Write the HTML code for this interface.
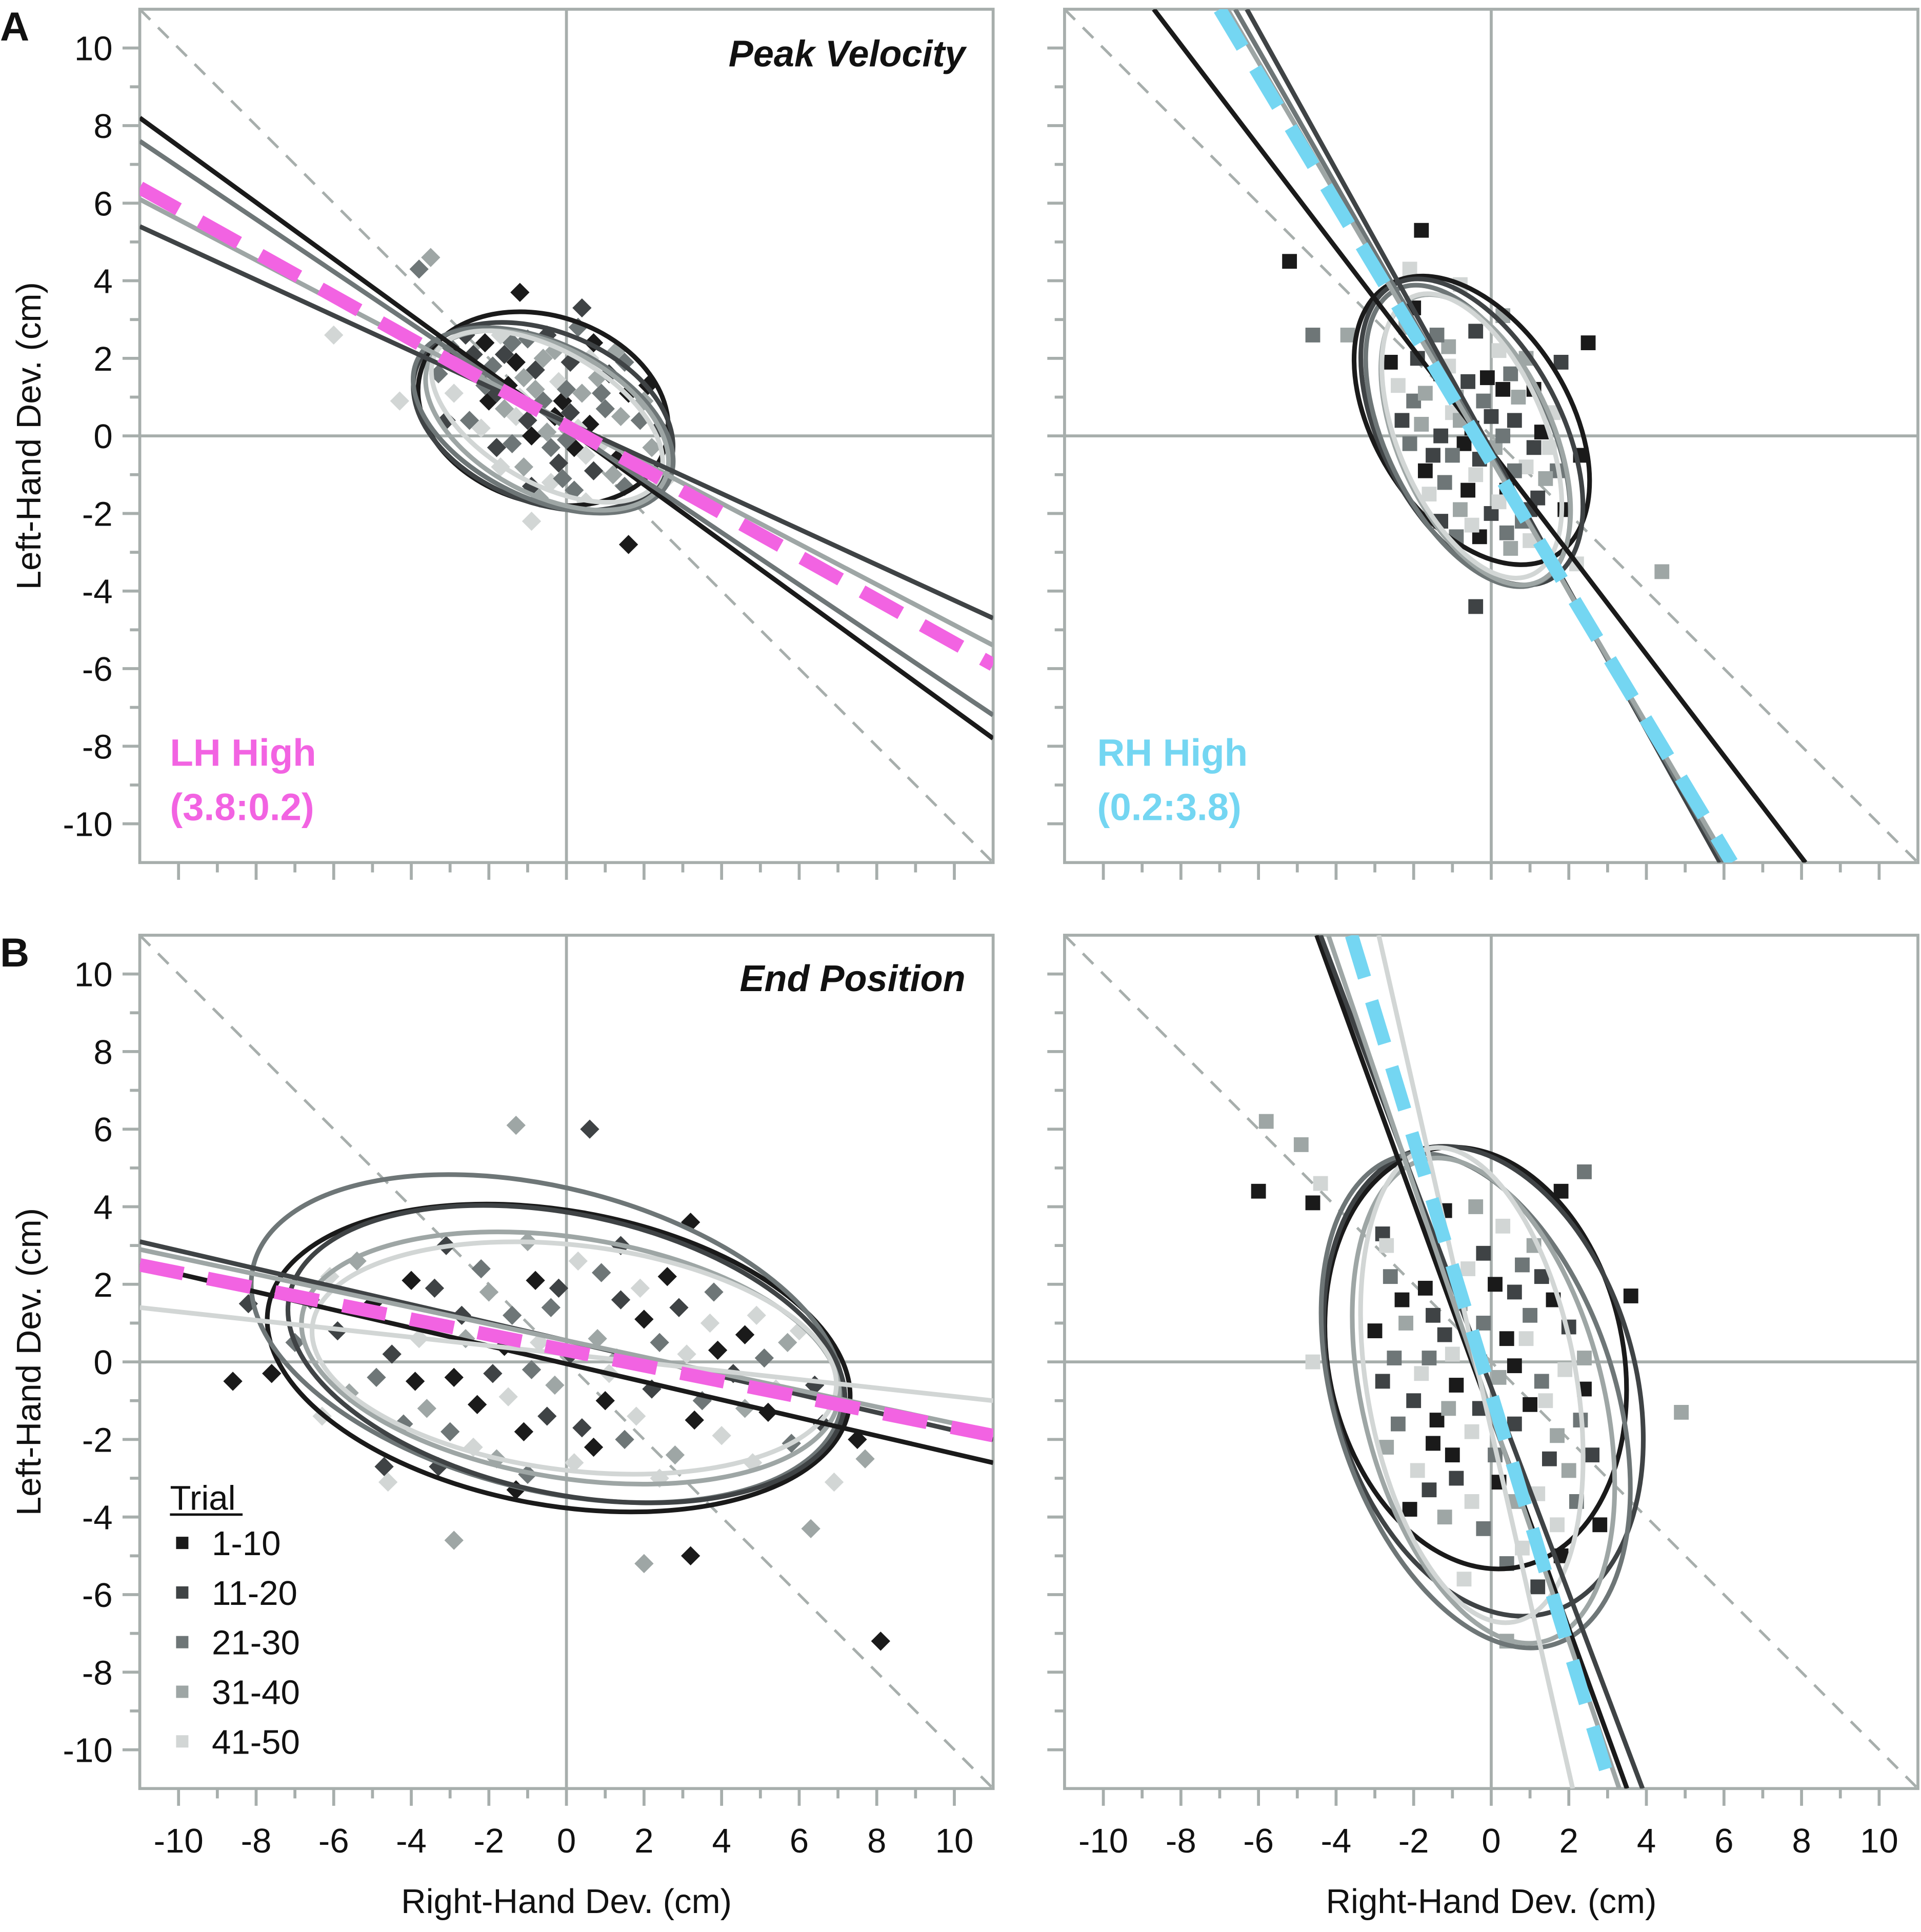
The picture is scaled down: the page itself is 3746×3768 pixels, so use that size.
<!DOCTYPE html>
<html><head><meta charset="utf-8"><style>
html,body{margin:0;padding:0;background:#fff}
svg{display:block}
text{font-family:"Liberation Sans",Arial,sans-serif}
</style></head><body>
<svg id="fig" xmlns="http://www.w3.org/2000/svg" width="3746" height="3768" viewBox="0 0 1560 1569" preserveAspectRatio="none">
<rect x="0" y="0" width="1560" height="1569" fill="#fff"/>
<text x="0" y="33" font-size="33" font-weight="bold" fill="#111">A</text>
<text x="0" y="785" font-size="33" font-weight="bold" fill="#111">B</text>
<g id="layer"></g>
</svg>
<script>
// ---------- data ----------
const ticks = [-10,-8,-6,-4,-2,0,2,4,6,8,10];
const shades = ['#1a1a1a','#3f4345','#6e7677','#9ea6a5','#d2d6d5'];
const legendLabels = ['1-10','11-20','21-30','31-40','41-50'];
// lines: [x1,y1,x2,y2,shadeIndex] (shade -1 = highlight dashed)
const linesAL = [[-11,8.2,11,-7.8,0],[-11,7.6,11,-7.2,2],[-11,6.1,11,-5.4,3],[-11,5.4,11,-4.7,1],[-11,6.4,11,-5.9,-1]];
const linesAR = [[-8.7,11,8.1,-11,0],[-6.3,11,5.9,-11,1],[-6.6,11,6.0,-11,2],[-6.8,11,6.1,-11,3],[-7.0,11,6.2,-11,-1]];
const linesBL = [[-11,2.5,11,-2.6,0],[-11,3.1,11,-2.0,1],[-11,2.9,11,-1.8,3],[-11,1.4,11,-1.0,4],[-11,2.5,11,-1.9,-1]];
const linesBR = [[-4.5,11,3.5,-11,0],[-4.4,11,3.9,-11,1],[-4.2,11,3.3,-11,3],[-2.9,11,2.1,-11,4],[-3.6,11,3.1,-11,-1]];
// ellipses: [cx,cy,rx,ry,angleDeg,shade]
const ellAL = [[-0.6,0.7,3.3,2.4,-18,0],[-0.6,0.5,3.5,2.2,-22,1],[-0.6,0.4,3.6,2.0,-26,2],[-0.5,0.4,3.4,1.9,-28,3],[-0.5,0.5,3.3,1.7,-30,4]];
const ellAR = [[-0.5,0.4,4.1,2.5,-58,0],[-0.5,0.1,4.3,2.3,-62,1],[-0.6,0.0,4.2,2.1,-64,2],[-0.4,-0.1,4.0,2.0,-66,3],[-0.5,0.0,3.9,1.9,-67,4]];
const ellBL = [[-0.2,0.1,7.6,3.8,-10,0],[-0.5,0.6,7.8,3.9,-14,2],[0.0,0.2,7.3,3.6,-12,1],[0.1,0.1,7.0,3.1,-9,3],[0.2,0.1,6.8,2.9,-7,4]];
const ellBR = [[-0.4,0.1,5.5,3.8,-78,0],[-0.2,-0.5,6.2,3.9,-74,1],[-0.4,-1.0,6.6,3.6,-72,2],[-0.2,-1.0,6.4,3.1,-76,3],[-0.5,-0.6,6.2,2.7,-80,4]];
// points: [x,y,shade]
const ptsAL = [[-3.5,4.6,3],[-3.8,4.3,2],[-1.2,3.7,0],[0.4,3.3,1],[-6,2.6,4],[-4.3,0.9,4],[2.6,-1.1,4],[1.6,-2.8,0],[2.1,1.3,0],[-0.9,-2.2,4],
[-2.1,2.4,0],[-1.6,2.1,1],[-1.0,2.5,2],[-0.3,2.2,3],[0.6,2.0,4],[1.1,1.6,1],[1.6,1.1,0],[1.9,0.4,2],[2.2,-0.3,3],[1.3,-0.6,0],
[0.7,-0.9,1],[0.2,-1.4,2],[-0.4,-1.2,4],[-1.1,-0.8,3],[-1.8,-0.3,1],[-2.5,0.4,2],[-2.9,1.1,4],[-2.3,1.6,3],[-1.5,1.3,0],[-0.8,1.7,1],
[-0.2,1.4,4],[0.4,1.1,3],[1.0,0.7,2],[0.6,0.3,0],[0.1,0.6,1],[-0.6,0.9,2],[-1.3,0.5,4],[-2.0,0.9,0],[-1.7,2.6,4],[-0.5,0.1,3],
[0.2,-0.3,0],[0.9,-0.2,4],[1.5,-1.3,2],[-0.2,-0.7,1],[-0.9,0.0,0],[-1.4,-0.2,2],[-2.7,1.9,3],[-3.1,0.4,1],[0.3,2.8,2],[-1.2,1.0,4],
[0.8,1.5,3],[-0.1,0.9,0],[-2.2,0.2,4],[1.8,-0.8,1],[-0.7,-1.6,3],[0.5,-1.7,4],[-3.0,2.3,2],[1.3,2.2,3],[-1.8,1.1,1],[0.0,-0.1,2],
[-2.4,2.1,1],[-1.9,1.8,2],[-1.3,1.9,0],[-0.6,2.0,3],[0.1,1.9,1],[0.9,1.1,2],[1.4,0.5,3],[0.5,-0.5,4],[-0.4,-0.3,2],[-1.0,0.4,1],
[-1.6,0.7,3],[-2.1,1.3,2],[-0.3,0.5,0],[0.3,0.2,4],[-0.8,1.2,3],[-1.4,2.4,2],[-2.6,2.6,1],[1.2,-1.0,3],[-0.1,-1.1,2],[-1.7,-0.8,4],
[2.0,0.9,3],[1.5,1.9,2],[-2.9,2.0,0],[-3.3,1.6,2],[-0.5,2.6,1],[0.7,2.4,0],[2.4,0.2,1],[-0.9,-1.3,1],[0.0,1.2,2],[-1.1,1.5,3]];
const ptsAR = [[-5.2,4.5,0],[-1.8,5.3,0],[-3.7,2.6,3],[-4.6,2.6,2],[-2.2,2.8,3],[2.5,2.4,0],[-2.0,3.3,0],[-0.8,3.9,4],[-2.1,4.3,4],[0.3,3.1,3],
[4.4,-3.5,3],[-0.4,-4.4,1],[2.2,-3.3,4],[2.3,-0.5,0],[1.8,1.9,1],[-2.4,1.3,4],[-1.3,1.6,0],[-0.6,1.4,1],[0.5,1.6,2],[1.1,1.2,0],
[-1.8,0.3,3],[-1.0,0.6,4],[-0.2,0.9,2],[0.6,0.4,1],[1.3,0.1,0],[-1.5,-0.5,1],[-0.7,-0.2,0],[0.1,-0.3,3],[0.9,-0.8,4],[1.7,-0.9,2],
[-1.2,-1.2,2],[-0.4,-1.0,4],[0.4,-1.4,0],[1.2,-1.6,1],[-0.8,-1.9,3],[0.0,-2.0,1],[0.8,-2.2,2],[-1.6,-1.5,4],[-0.3,-2.6,0],[0.5,-2.9,3],
[-2.0,0.9,2],[-1.1,2.3,3],[0.2,2.2,4],[1.5,-0.3,4],[-0.5,0.2,0],[0.3,0.0,2],[-1.3,0.0,1],[1.0,-2.7,4],[-0.9,-2.6,2],[1.9,-1.9,0],
[-1.9,2.0,1],[-1.4,2.6,2],[-0.9,1.0,3],[-0.1,1.5,0],[0.7,1.0,3],[-2.3,0.4,1],[-1.7,-0.9,0],[-1.0,-0.5,2],[-0.3,-0.6,1],[0.6,-0.9,2],
[1.4,-1.1,3],[-0.6,-1.4,0],[0.2,-1.7,4],[1.0,-1.9,1],[-1.3,-2.2,1],[-0.5,-2.3,4],[0.4,-2.5,2],[-2.6,1.9,0],[-0.4,2.7,1],[0.9,2.0,3],
[1.6,0.6,4],[-1.7,1.1,3],[0.0,0.5,1],[-0.8,0.4,3],[1.1,-0.3,1],[-2.1,-0.2,2],[0.3,1.2,0],[-1.1,1.8,4]];
const ptsBL = [[-1.3,6.1,3],[0.6,6.0,1],[3.2,3.6,0],[-8.6,-0.5,0],[-8.2,1.5,1],[-4.7,-2.7,1],[-4.6,-3.1,4],[-2.9,-4.6,3],[-1.3,-3.3,0],[2.0,-5.2,3],
[3.2,-5.0,0],[6.3,-4.3,3],[8.1,-7.2,0],[7.7,-2.5,3],[6.9,-3.1,4],[7.5,-2.0,0],[-7.6,-0.3,0],[-6.1,2.2,4],[-4.0,2.1,0],[-3.1,3.0,1],
[-2.2,2.4,2],[-1.0,3.1,3],[0.3,2.6,4],[1.4,3.0,1],[2.6,2.2,0],[3.8,1.8,2],[4.9,1.2,4],[5.7,0.5,3],[6.4,-0.6,1],[5.2,-1.3,0],
[4.0,-1.9,4],[2.8,-2.4,3],[1.5,-2.0,2],[0.2,-2.6,4],[-1.1,-1.8,0],[-2.4,-2.2,4],[-3.6,-1.2,3],[-4.9,-0.4,2],[-5.9,0.8,1],[-5.0,1.5,0],
[-3.8,0.6,4],[-2.7,1.2,1],[-1.6,0.4,0],[-0.4,1.4,2],[0.8,0.6,3],[2.0,1.1,0],[3.1,0.2,4],[4.3,-0.3,1],[3.5,-1.0,2],[2.2,-0.7,1],
[1.0,-1.0,0],[-0.3,-0.6,3],[-1.5,-0.9,4],[-2.9,-0.4,0],[-4.2,-1.6,2],[-6.3,-1.4,4],[-5.4,2.6,3],[-0.8,2.1,0],[1.9,1.9,4],[4.6,0.7,0],
[5.8,-2.1,2],[0.4,-1.7,1],[-2.0,1.8,3],[-3.3,-2.7,1],[2.4,-3.0,4],[-7.0,0.5,2],[-0.7,0.5,4],[1.3,0.1,3],[3.7,1.0,4],[6.0,0.8,4],
[-3.4,1.9,1],[-2.6,0.6,3],[-1.9,-0.3,1],[-0.9,-0.2,2],[0.1,0.2,1],[1.1,-0.3,4],[2.4,0.5,2],[3.3,-1.5,0],[4.6,-1.2,3],[5.1,0.1,2],
[-4.5,0.2,1],[-3.0,-1.8,2],[-1.8,-2.5,3],[-0.5,-1.4,1],[0.7,-2.2,0],[1.8,-1.4,4],[2.9,1.4,1],[-0.2,1.9,1],[-1.4,1.2,2],[-2.3,-1.1,0],
[3.9,0.3,0],[5.4,-0.7,4],[-5.6,-0.8,3],[-6.6,1.6,2],[0.9,2.3,2],[-3.9,-0.5,0],[6.6,-1.6,1],[4.8,-2.6,4],[-1.0,-2.9,2],[1.4,1.6,1]];
const ptsBR = [[-6.0,4.4,0],[-5.8,6.2,3],[-4.9,5.6,3],[-4.6,4.1,0],[-4.4,4.6,4],[4.9,-1.3,3],[3.6,1.7,0],[2.4,4.9,2],[1.8,4.4,0],[0.4,-7.2,3],
[-4.6,0.0,4],[-2.8,3.3,1],[-1.2,3.9,0],[0.3,3.5,4],[1.1,3.0,3],[-2.6,2.2,2],[-1.7,1.9,0],[-0.6,2.4,4],[0.6,1.8,1],[1.6,1.6,0],
[-3.0,0.8,0],[-2.2,1.0,3],[-1.2,0.7,1],[-0.2,1.0,2],[0.9,0.6,4],[2.0,0.9,1],[-2.8,-0.5,1],[-1.8,-0.3,4],[-0.9,-0.6,0],[0.2,-0.4,3],
[1.3,-0.5,2],[2.4,-0.7,0],[-2.4,-1.6,2],[-1.4,-1.5,0],[-0.5,-1.8,4],[0.6,-1.6,1],[1.7,-1.9,3],[2.6,-2.4,1],[-1.9,-2.8,4],[-0.9,-3.0,1],
[0.2,-3.1,0],[1.2,-3.4,4],[2.2,-3.6,2],[-1.2,-4.0,3],[-0.2,-4.3,2],[0.8,-4.8,4],[1.8,-5.0,0],[-0.7,-5.6,4],[1.2,-5.8,1],[2.8,-4.2,0],
[-2.7,3.0,4],[-0.3,0.0,1],[0.4,0.6,0],[-1.6,0.1,2],[1.4,-1.0,4],[-1.0,-2.4,0],[2.0,-2.8,3],[-2.1,-3.8,0],[-0.4,4.0,3],[0.8,2.5,2],
[-2.3,1.6,0],[-1.5,1.2,1],[-0.8,1.5,3],[0.1,2.0,0],[1.3,2.2,1],[-2.5,0.1,2],[-1.0,0.2,4],[0.6,-0.1,0],[1.9,-0.2,4],[-2.0,-1.0,1],
[-0.3,-1.2,1],[1.0,-1.1,0],[2.3,-1.5,2],[-1.5,-2.1,0],[0.1,-2.4,2],[1.5,-2.5,1],[-1.6,-3.3,1],[0.6,-3.6,3],[1.7,-4.2,4],[-0.5,-3.6,4],
[2.4,0.1,3],[-2.7,-2.2,3],[-0.2,2.8,1],[1.0,1.2,2],[-1.1,-1.2,3],[0.4,-5.2,2]];
const panels = [
 {ox:113.5, oy:7.5, name:'peak-velocity-lh-high', lines:linesAL, ell:ellAL, pts:ptsAL, marker:'diamond', hl:'#f263e2', xlab:false},
 {ox:864.5, oy:7.5, name:'peak-velocity-rh-high', lines:linesAR, ell:ellAR, pts:ptsAR, marker:'square', hl:'#74d6f2', xlab:false},
 {ox:113.5, oy:759.5, name:'end-position-lh-high', lines:linesBL, ell:ellBL, pts:ptsBL, marker:'diamond', hl:'#f263e2', xlab:true},
 {ox:864.5, oy:759.5, name:'end-position-rh-high', lines:linesBR, ell:ellBR, pts:ptsBR, marker:'square', hl:'#74d6f2', xlab:true}
];
// ---------- drawing ----------
const NS='http://www.w3.org/2000/svg';
const S=31.5, HALF=11, W=S*22;
const layer=document.getElementById('layer');
function mk(tag,attrs,parent){const e=document.createElementNS(NS,tag);for(const k in attrs)e.setAttribute(k,attrs[k]);(parent||layer).appendChild(e);return e;}
const AX='#a7aeac';
panels.forEach(p=>{
  const sx=v=>p.ox+(v+HALF)*S, sy=v=>p.oy+(HALF-v)*S;
  const g=mk('g',{});
  
  
  const clipId='clip-'+p.name;
  const cp=mk('clipPath',{id:clipId},g); mk('rect',{x:p.ox,y:p.oy,width:W,height:W},cp);
  const box=mk('rect',{x:p.ox,y:p.oy,width:W,height:W,fill:'none',stroke:AX,'stroke-width':2.4},g);
  
  
  const pg=mk('g',{'clip-path':'url(#'+clipId+')'},g);
  const zx=mk('line',{x1:sx(0),y1:p.oy,x2:sx(0),y2:p.oy+W,stroke:AX,'stroke-width':2.4},pg);
  
  
  const zy=mk('line',{x1:p.ox,y1:sy(0),x2:p.ox+W,y2:sy(0),stroke:AX,'stroke-width':2.4},pg);
  
  
  const idl=mk('line',{x1:sx(-11),y1:sy(11),x2:sx(11),y2:sy(-11),stroke:AX,'stroke-width':2.2,'stroke-dasharray':'12 9'},pg);
  
  
  p.pts.forEach(d=>{
    const x=sx(d[0]),y=sy(d[1]),c=shades[d[2]];
    let m;
    if(p.marker==='diamond') m=mk('rect',{x:x-5.5,y:y-5.5,width:11,height:11,fill:c,transform:'rotate(45 '+x+' '+y+')'},pg);
    else m=mk('rect',{x:x-6,y:y-6,width:12,height:12,fill:c},pg);
    
    
  });
  p.ell.forEach(e=>{
    const el=mk('ellipse',{cx:0,cy:0,rx:e[2]*S,ry:e[3]*S,fill:'none',stroke:shades[e[5]],'stroke-width':3.8,
      transform:'translate('+sx(e[0])+' '+sy(e[1])+') rotate('+(-e[4])+')'},pg);
    
    
  });
  p.lines.forEach(l=>{
    const hl=l[4]<0;
    const ln=mk('line',{x1:sx(l[0]),y1:sy(l[1]),x2:sx(l[2]),y2:sy(l[3]),stroke:hl?p.hl:shades[l[4]],'stroke-width':hl?11:3.8,'stroke-dasharray':hl?'36 20':'none'},pg);
    
    
  });
  for(let v=-10;v<=10;v++){
    const major=v%2===0, len=major?14:8;
    const ty=mk('line',{x1:p.ox,y1:sy(v),x2:p.ox-len,y2:sy(v),stroke:AX,'stroke-width':2.4},g);
    
    
    const tx=mk('line',{x1:sx(v),y1:p.oy+W,x2:sx(v),y2:p.oy+W+len,stroke:AX,'stroke-width':2.4},g);
    
    
  }
  if(p.ox<200){
    ticks.forEach(v=>{
      const t=mk('text',{x:p.ox-22,y:sy(v)+10,'font-size':28,'text-anchor':'end',fill:'#111'},g);
      t.textContent=String(v);
      
      
    });
    const yt=mk('text',{x:0,y:0,'font-size':28,'text-anchor':'middle',fill:'#111',transform:'translate(33 '+(p.oy+W/2)+') rotate(-90)'},g);
    yt.textContent='Left-Hand Dev. (cm)';
    
    
  }
  if(p.xlab){
    ticks.forEach(v=>{
      const t=mk('text',{x:sx(v),y:p.oy+W+52,'font-size':28,'text-anchor':'middle',fill:'#111'},g);
      t.textContent=String(v);
      
      
    });
    const xt=mk('text',{x:p.ox+W/2,y:p.oy+W+101,'font-size':28,'text-anchor':'middle',fill:'#111'},g);
    xt.textContent='Right-Hand Dev. (cm)';
    
    
  }
});
function label(txt,x,y,size,fill,weight,style,anchor,name){
  const t=mk('text',{x:x,y:y,'font-size':size,fill:fill,'font-weight':weight,'font-style':style,'text-anchor':anchor});
  t.textContent=txt;
  
  
  return t;
}
label('Peak Velocity',784,54,30,'#111','bold','italic','end','title-peak-velocity');
label('End Position',784,805,30,'#111','bold','italic','end','title-end-position');
label('LH High',138,622,31,'#f263e2','bold','normal','start','condition-lh-high');
label('(3.8:0.2)',138,666,31,'#f263e2','bold','normal','start','condition-lh-ratio');
label('RH High',891,622,31,'#74d6f2','bold','normal','start','condition-rh-high');
label('(0.2:3.8)',891,666,31,'#74d6f2','bold','normal','start','condition-rh-ratio');
const lg=mk('g',{});


const lt=mk('text',{x:138,y:1226,'font-size':28,fill:'#111'},lg);
lt.textContent='Trial';


const ul=mk('line',{x1:138,y1:1230,x2:197,y2:1230,stroke:'#111','stroke-width':2},lg);


legendLabels.forEach((s,i)=>{
  const y=1253+i*40.3;
  const r=mk('rect',{x:143,y:y-5,width:10,height:10,fill:shades[i]},lg);
  
  
  const t=mk('text',{x:172,y:y+10,'font-size':28,fill:'#111'},lg);
  t.textContent=s;
  
  
});
</script>
</body></html>
